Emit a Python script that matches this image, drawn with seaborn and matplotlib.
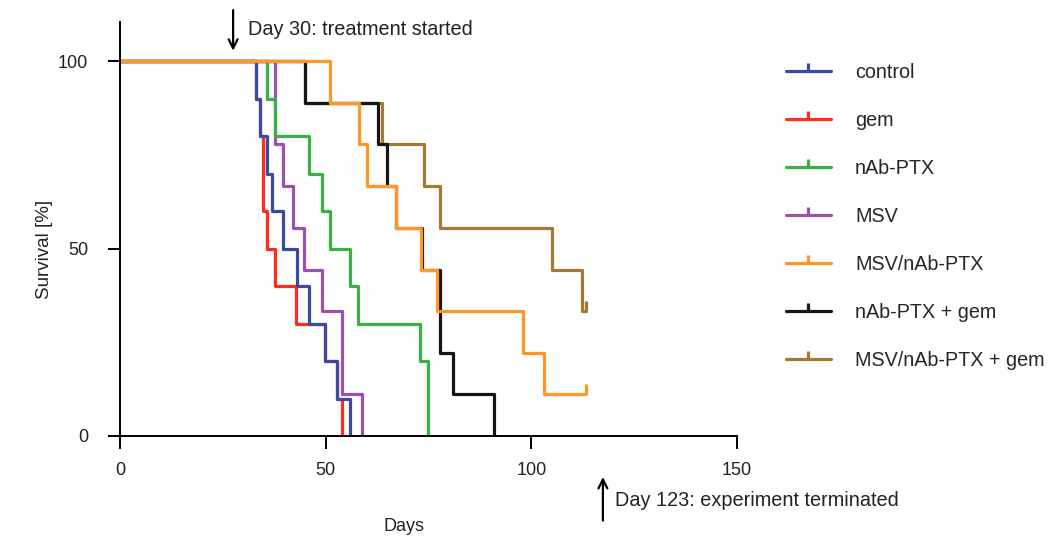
import numpy as np
import pandas as pd
import matplotlib
matplotlib.use("Agg")
import matplotlib.pyplot as plt
import seaborn as sns
from matplotlib.lines import Line2D

# Kaplan-Meier steps (day, survival %)
groups = ["control", "gem", "nAb-PTX", "MSV", "MSV/nAb-PTX",
          "nAb-PTX + gem", "MSV/nAb-PTX + gem"]
colors = ["#3d4aa3", "#ff2b1c", "#3bb143", "#9a52ae", "#ff9626",
          "#151515", "#a27a34"]

control_days = [0, 33.1, 34.0, 35.7, 37.0, 39.7, 43.0, 46.0, 49.8, 52.8, 55.9]
control_surv = [100, 90, 80, 70, 60, 50, 40, 30, 20, 10, 0]

gem_days = [0, 33.1, 34.0, 34.8, 35.7, 37.8, 42.8, 49.8, 52.8, 53.9]
gem_surv = [100, 90, 80, 60, 50, 40, 30, 20, 10, 0]

nab_days = [0, 35.7, 37.8, 46.0, 49.0, 51.0, 55.9, 57.9, 72.9, 74.9]
nab_surv = [100, 90, 80, 70, 60, 50, 40, 30, 20, 0]

msv_days = [0, 37.8, 39.7, 42.0, 44.7, 49.0, 53.9, 58.9]
msv_surv = [100, 77.8, 66.7, 55.6, 44.4, 33.3, 11.1, 0]

msv_nab_days = [0, 51.0, 58.1, 60.1, 67.0, 73.2, 77.0, 98.0, 103.0, 113.2]
msv_nab_surv = [100, 88.9, 77.8, 66.7, 55.6, 44.4, 33.3, 22.2, 11.1, 11.1]

nab_gem_days = [0, 45.0, 62.8, 64.8, 67.0, 73.5, 77.8, 81.0, 91.0]
nab_gem_surv = [100, 88.9, 77.8, 66.7, 55.6, 44.4, 22.2, 11.1, 0]

msv_nab_gem_days = [0, 45.0, 63.6, 73.9, 77.8, 105.0, 112.3, 113.2]
msv_nab_gem_surv = [100, 88.9, 77.8, 66.7, 55.6, 44.4, 33.3, 33.3]

# censored animals at the end of the study
censor_groups = ["MSV/nAb-PTX", "MSV/nAb-PTX + gem"]
censor_days = [113.2, 113.2]
censor_surv = [11.1, 33.3]

all_days = [control_days, gem_days, nab_days, msv_days, msv_nab_days,
            nab_gem_days, msv_nab_gem_days]
all_surv = [control_surv, gem_surv, nab_surv, msv_surv, msv_nab_surv,
            nab_gem_surv, msv_nab_gem_surv]

frames = []
for g, d, s in zip(groups, all_days, all_surv):
    frames.append(pd.DataFrame({"day": d, "survival": s, "group": g}))
df = pd.concat(frames, ignore_index=True)

palette = dict(zip(groups, colors))
draw_order = ["gem", "MSV", "nAb-PTX", "control", "MSV/nAb-PTX + gem",
              "nAb-PTX + gem", "MSV/nAb-PTX"]

sns.set_style("ticks")
plt.rcParams["font.family"] = ["Liberation Sans", "DejaVu Sans"]
plt.rcParams["font.size"] = 13

fig = plt.figure(figsize=(10.51, 5.42), dpi=100)
ax = fig.add_axes([120 / 1051, 1 - 436 / 542, 617 / 1051, 414 / 542])

sns.lineplot(data=df, x="day", y="survival", hue="group", hue_order=draw_order,
             palette=palette, estimator=None, sort=False, drawstyle="steps-post",
             linewidth=2.3, legend=False, ax=ax)

for g, d, s in zip(censor_groups, censor_days, censor_surv):
    ax.plot([d], [s], linestyle="none", marker=2, markersize=7,
            markeredgewidth=2.3, color=palette[g])

ax.set_xlim(0, 150)
ax.set_ylim(0, 110.4)
ax.set_xticks([0, 50, 100, 150])
ax.set_yticks([0, 50, 100])
sns.despine(ax=ax)
for sp in ["left", "bottom"]:
    ax.spines[sp].set_linewidth(1.4)
    ax.spines[sp].set_color("black")
ax.tick_params(axis="both", length=9, width=1.4, color="black",
               labelsize=13, labelcolor="#222222")
ax.tick_params(axis="y", pad=14)
ax.tick_params(axis="x", pad=10)
ax.set_xlabel("Days", fontsize=13, color="#222222")
ax.set_ylabel("Survival [%]", fontsize=13.5, color="#222222")
ax.xaxis.set_label_coords((404 - 120) / 617, -0.197)
ax.yaxis.set_label_coords(-0.108, 0.45)

# treatment window annotations
ax.annotate("", xy=(27.5, 102.0), xytext=(27.5, 114.3),
            arrowprops=dict(arrowstyle="->", lw=1.6, color="black",
                            mutation_scale=16),
            annotation_clip=False)
ax.text(31.1, 108.4, "Day 30: treatment started", fontsize=14.3,
        color="#222222", va="center", ha="left", clip_on=False)
ax.annotate("", xy=(117.4, -10.2), xytext=(117.4, -23.3),
            arrowprops=dict(arrowstyle="->", lw=1.6, color="black",
                            mutation_scale=16),
            annotation_clip=False)
ax.text(120.3, -17.2, "Day 123: experiment terminated", fontsize=14.3,
        color="#222222", va="center", ha="left", clip_on=False)

handles = [Line2D([0], [0], color=c, lw=2.3, marker=2, markersize=6,
                  markeredgewidth=2.3) for c in colors]
fig.legend(handles, groups, loc="upper left",
           bbox_to_anchor=(786 / 1051, 1 - 63 / 542), frameon=False,
           fontsize=14.2, handlelength=2.28, handletextpad=1.22,
           labelspacing=1.47, borderpad=0, borderaxespad=0, numpoints=1)

fig.savefig("out.png", dpi=100)
plt.close(fig)
